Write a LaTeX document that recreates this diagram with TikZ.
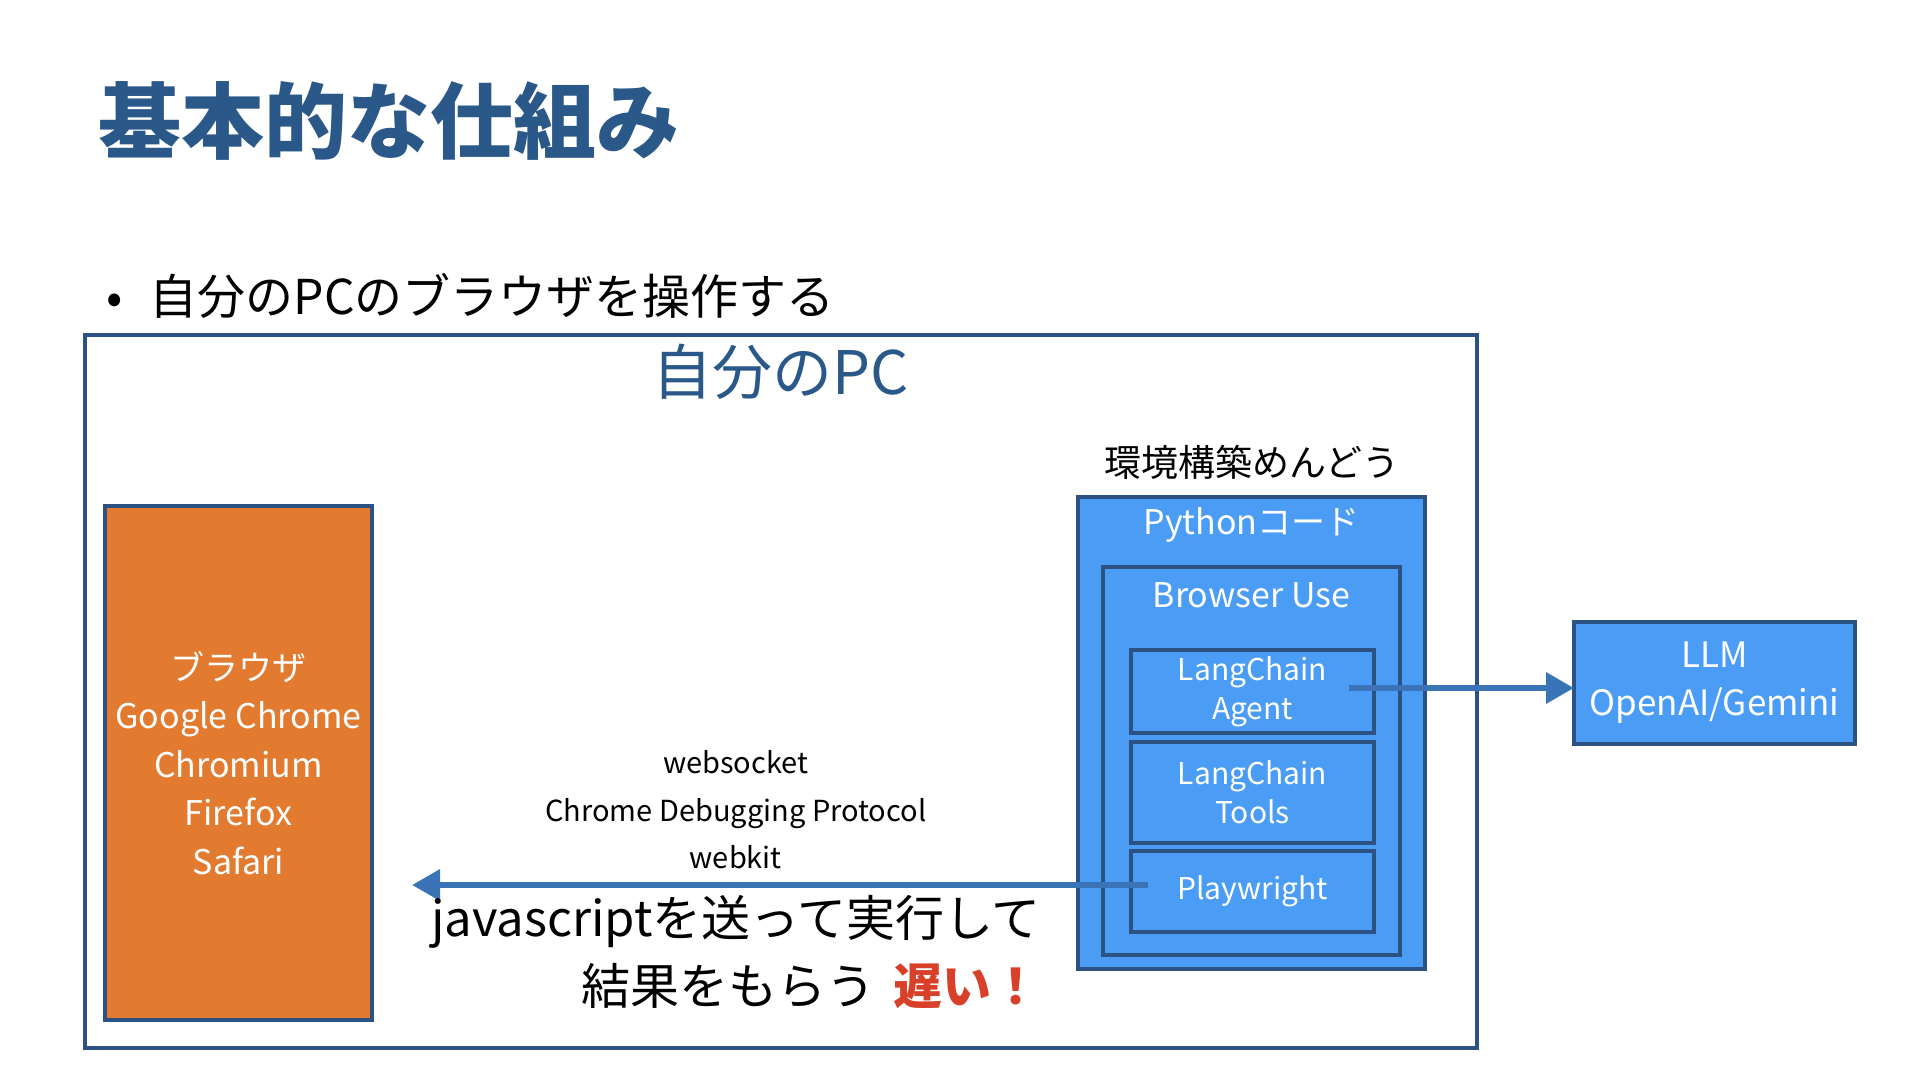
\documentclass[tikz,border=0pt]{standalone}
\usepackage{fontspec}
\setmainfont{Noto Sans CJK JP}
\usepackage{tikz}
\usetikzlibrary{shapes,arrows.meta,positioning,calc}
\definecolor{titleblue}{HTML}{2A5889}
\definecolor{edgeblue}{HTML}{2B5282}
\definecolor{boxblue}{HTML}{4A9CF4}
\definecolor{boxorange}{HTML}{E27A30}
\definecolor{flowblue}{HTML}{3A74B7}
\definecolor{slowred}{HTML}{D9402A}
\newcommand{\setfs}[2]{\fontsize{#1}{#2}\selectfont}
\tikzset{
    boxframe/.style={
           rectangle,
           draw=edgeblue, line width=2.3pt,
           inner sep=0pt, outer sep=0pt,
           text=white, align=center
           },
    pcbox/.style={boxframe, minimum width=696pt, minimum height=356.5pt},
    browserbox/.style={boxframe, fill=boxorange,
           minimum width=133.5pt, minimum height=257pt,
           font=\setfs{17pt}{24.2pt}},
    pybox/.style={boxframe, fill=boxblue, minimum width=173.5pt, minimum height=236pt},
    usebox/.style={boxframe, fill=boxblue, minimum width=148.5pt, minimum height=194pt},
    inbox/.style={boxframe, fill=boxblue, minimum width=121.5pt,
           font=\setfs{15pt}{19.5pt}},
    llmbox/.style={boxframe, fill=boxblue, minimum width=140.5pt, minimum height=61pt,
           font=\setfs{17.5pt}{24pt}},
    txt/.style={inner sep=0pt, outer sep=0pt, align=center},
    headline/.style={txt, anchor=west, text=titleblue,
           font=\setfs{41.5pt}{50pt}\bfseries},
    itemline/.style={txt, anchor=west, font=\setfs{24pt}{30pt}},
    pcname/.style={txt, text=titleblue, font=\setfs{30pt}{36pt}},
    note/.style={txt, font=\setfs{18.5pt}{22pt}},
    boxtitle/.style={txt, text=white, font=\setfs{17pt}{20pt}},
    proto/.style={txt, font=\setfs{14.5pt}{23.75pt}},
    slow/.style={txt, align=right, font=\setfs{24.5pt}{34pt}},
    flow/.style={->, draw=flowblue, fill=flowblue, line width=3.25pt}
}

\begin{document}
\begin{tikzpicture}[x=0.5pt, y=-0.5pt, >={Triangle[length=14pt,width=15pt]}]
   \useasboundingbox (0,0) rectangle (1920,1080);
   % heading
   \node[headline] (title) at (98,121) {基本的な仕組み};
   \node[itemline] (item) at (106,296) {\makebox[22pt][l]{•}自分のPCのブラウザを操作する};

   % my pc
   \node[pcbox] (pc) at (781,691.5) {};
   \node[pcname] (pcname) at (781,372) {自分のPC};
   \node[browserbox] (browser) at (238.5,763) {ブラウザ\\Google Chrome\\Chromium\\Firefox\\Safari};

   % python side
   \node[pybox] (python) at (1251.5,733) {};
   \node[note] (hassle) at (1251.5,462) {環境構築めんどう};
   \node[boxtitle] (pytitle) at (1251.5,525) {Pythonコード};
   \node[usebox] (bu) at (1251.5,761) {};
   \node[boxtitle] (butitle) at (1251.5,595) {Browser Use};
   \node[inbox, minimum height=41.5pt] (agent) at (1252.5,691.5) {LangChain\\Agent};
   \node[inbox, minimum height=50.5pt] (tools) at (1252.5,792.5) {LangChain\\Tools};
   \node[inbox, minimum height=40.5pt] (pw) at (1252.5,891.5) {Playwright};
   \node[llmbox] (llm) at (1714.5,683) {LLM\\OpenAI/Gemini};

   \coordinate (agentout) at (1349,688);
   \coordinate (pwout) at (1148,885);
   \draw[flow] (agentout) -- (agentout -| llm.west);
   \draw[flow] (pwout)
      -- node[proto, pos=0.56, above=8pt] {websocket\\Chrome Debugging Protocol\\webkit}
         node[slow, pos=0.56, below=5pt] {javascriptを送って実行して\\結果をもらう\hspace{9pt}{\bfseries\color{slowred}遅い！}}
      ([xshift=20pt]pwout -| browser.east);
\end{tikzpicture}
\end{document}
